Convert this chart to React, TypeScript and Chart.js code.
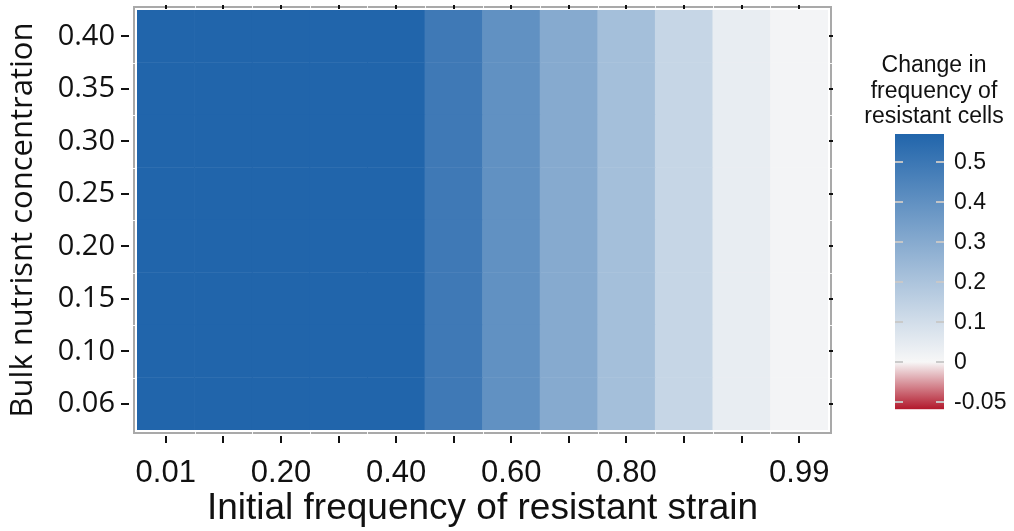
import React, { useEffect, useRef } from 'react';
import { Chart, registerables } from 'chart.js';

Chart.register(...registerables);

// ---- data -------------------------------------------------------------
const xCategories = ['0.01', '0.10', '0.20', '0.30', '0.40', '0.50', '0.60', '0.70', '0.80', '0.90', '0.95', '0.99'];
const xTickLabels = ['0.01', '', '0.20', '', '0.40', '', '0.60', '', '0.80', '', '', '0.99'];
// bottom to top
const yCategories = ['0.06', '0.10', '0.15', '0.20', '0.25', '0.30', '0.35', '0.40'];

const change006 = [0.57, 0.57, 0.57, 0.57, 0.57, 0.49, 0.4, 0.3, 0.22, 0.13, 0.04, 0.01];
const change010 = [0.57, 0.57, 0.57, 0.57, 0.57, 0.49, 0.4, 0.3, 0.22, 0.13, 0.04, 0.01];
const change015 = [0.57, 0.57, 0.57, 0.57, 0.57, 0.49, 0.4, 0.3, 0.22, 0.13, 0.04, 0.01];
const change020 = [0.57, 0.57, 0.57, 0.57, 0.57, 0.49, 0.4, 0.3, 0.22, 0.13, 0.04, 0.01];
const change025 = [0.57, 0.57, 0.57, 0.57, 0.57, 0.49, 0.4, 0.3, 0.22, 0.13, 0.04, 0.01];
const change030 = [0.57, 0.57, 0.57, 0.57, 0.57, 0.49, 0.4, 0.3, 0.22, 0.13, 0.04, 0.01];
const change035 = [0.57, 0.57, 0.57, 0.57, 0.57, 0.49, 0.4, 0.3, 0.22, 0.13, 0.04, 0.01];
const change040 = [0.57, 0.57, 0.57, 0.57, 0.57, 0.49, 0.4, 0.3, 0.22, 0.13, 0.04, 0.01];
const changeRows = [change006, change010, change015, change020, change025, change030, change035, change040];

const legendTitle = ['Change in', 'frequency of', 'resistant cells'];
const cbTicks = [0.5, 0.4, 0.3, 0.2, 0.1, 0, -0.05];
const cbLabels = ['0.5', '0.4', '0.3', '0.2', '0.1', '0', '-0.05'];
const cbMax = 0.57;
const cbMin = -0.059;

// ---- colour scale -----------------------------------------------------
const WHITE = [247, 247, 247];
const BLUE = [33, 101, 171];
const RED = [178, 24, 43];

function lerp(a: number[], b: number[], t: number) {
  const c = a.map((v, i) => Math.round(v + (b[i] - v) * Math.max(0, Math.min(1, t))));
  return `rgb(${c[0]},${c[1]},${c[2]})`;
}
function colorFor(v: number) {
  return v >= 0 ? lerp(WHITE, BLUE, v / cbMax) : lerp(WHITE, RED, v / cbMin);
}

const SANS = '"Liberation Sans", Arial, Helvetica, sans-serif';
const OPEN = '"Open Sans", "Noto Sans", sans-serif';

const decorPlugin = {
  id: 'decor',
  afterDatasetsDraw(chart: any) {
    const { ctx, chartArea: a, scales } = chart;
    const xs = scales.x;
    const ys = scales.y;
    ctx.save();
    // panel frame
    ctx.strokeStyle = '#a9a9a9';
    ctx.lineWidth = 2;
    ctx.strokeRect(a.left - 3, a.top - 3, a.right - a.left + 6, a.bottom - a.top + 6);

    // white marks on the frame at tile boundaries
    ctx.strokeStyle = 'rgba(255,255,255,0.9)';
    ctx.lineWidth = 1;
    for (let j = 0; j < xCategories.length - 1; j++) {
      const bx = Math.round((xs.getPixelForValue(j) + xs.getPixelForValue(j + 1)) / 2) + 0.5;
      ctx.beginPath();
      ctx.moveTo(bx, a.top - 4); ctx.lineTo(bx, a.top - 2);
      ctx.moveTo(bx, a.bottom + 2); ctx.lineTo(bx, a.bottom + 4);
      ctx.stroke();
    }
    for (let i = 1; i < yCategories.length; i++) {
      const by = Math.round(ys.getPixelForValue(i)) + 0.5;
      ctx.beginPath();
      ctx.moveTo(a.left - 4, by); ctx.lineTo(a.left - 2, by);
      ctx.moveTo(a.right + 2, by); ctx.lineTo(a.right + 4, by);
      ctx.stroke();
    }

    // axis ticks and mirror ticks
    ctx.strokeStyle = '#111';
    ctx.lineWidth = 2;
    xCategories.forEach((_, j) => {
      const px = Math.round(xs.getPixelForValue(j));
      ctx.beginPath();
      ctx.moveTo(px, a.bottom + 6); ctx.lineTo(px, a.bottom + 13);
      ctx.moveTo(px, a.top - 5); ctx.lineTo(px, a.top - 1);
      ctx.stroke();
    });
    yCategories.forEach((_, i) => {
      const py = Math.round(ys.getPixelForValue(i + 0.5));
      ctx.beginPath();
      ctx.moveTo(a.left - 16, py); ctx.lineTo(a.left - 8, py);
      ctx.moveTo(a.right + 1, py); ctx.lineTo(a.right + 5, py);
      ctx.stroke();
    });
    ctx.restore();
  },
  afterDraw(chart: any) {
    const { ctx, chartArea: a } = chart;
    const barLeft = a.right + 67;
    const barW = 49;
    const zeroY = 362;
    const stepPx = 40;
    const yOf = (v: number) => (v >= 0 ? zeroY - (v / 0.1) * stepPx : zeroY - (v / 0.05) * stepPx);
    const top = yOf(cbMax);
    const bottom = yOf(cbMin);
    ctx.save();
    const g = ctx.createLinearGradient(0, top, 0, bottom);
    g.addColorStop(0, colorFor(cbMax));
    g.addColorStop((zeroY - top) / (bottom - top), colorFor(0));
    g.addColorStop(1, colorFor(cbMin));
    ctx.fillStyle = g;
    ctx.fillRect(barLeft, top, barW, bottom - top);

    ctx.strokeStyle = 'rgba(200,200,200,0.95)';
    ctx.lineWidth = 2;
    ctx.fillStyle = '#111';
    ctx.font = `23px ${SANS}`;
    ctx.textAlign = 'left';
    ctx.textBaseline = 'middle';
    cbTicks.forEach((v, k) => {
      const y = Math.round(yOf(v));
      ctx.beginPath();
      ctx.moveTo(barLeft, y); ctx.lineTo(barLeft + 8, y);
      ctx.moveTo(barLeft + barW - 8, y); ctx.lineTo(barLeft + barW, y);
      ctx.stroke();
      ctx.fillText(cbLabels[k], barLeft + barW + 10, y + 1);
    });

    ctx.textAlign = 'center';
    ctx.textBaseline = 'alphabetic';
    legendTitle.forEach((line, k) => {
      ctx.fillText(line, barLeft + 39, 72 + k * 25.5);
    });
    ctx.restore();
  },
};

export default function App() {
  const ref = useRef<HTMLCanvasElement | null>(null);

  useEffect(() => {
    document.body.style.margin = '0';
    const canvas = ref.current;
    if (!canvas) return;

    const datasets = changeRows.map((row, i) => ({
      label: yCategories[i],
      data: xCategories.map(() => [i, i + 1]),
      backgroundColor: row.map((v) => colorFor(v)),
      borderWidth: 0,
      grouped: false,
      barPercentage: 1,
      categoryPercentage: 1,
    }));

    const chart = new Chart(canvas, {
      type: 'bar',
      data: { labels: xCategories, datasets: datasets as any },
      plugins: [decorPlugin],
      options: {
        animation: false,
        responsive: false,
        devicePixelRatio: 1,
        layout: { padding: { left: 0, top: 10, right: 186, bottom: 0 } },
        plugins: { legend: { display: false }, tooltip: { enabled: false } },
        scales: {
          x: {
            type: 'category',
            offset: true,
            grid: { display: false },
            border: { display: false },
            afterFit: (s: any) => {
              s.height = 101;
              s.paddingLeft = 0;
              s.paddingRight = 0;
            },
            ticks: {
              autoSkip: false,
              maxRotation: 0,
              padding: 17,
              color: '#111',
              font: { family: SANS, size: 31 },
              callback: (_v: any, i: number) => xTickLabels[i],
            },
            title: {
              display: true,
              text: 'Initial frequency of resistant strain',
              color: '#111',
              font: { family: SANS, size: 37 },
              padding: { top: 0, bottom: 0 },
            },
          },
          y: {
            type: 'linear',
            min: 0,
            max: 8,
            grid: { display: false },
            border: { display: false },
            afterFit: (s: any) => {
              s.width = 137;
              s.paddingTop = 0;
              s.paddingBottom = 0;
            },
            afterBuildTicks: (s: any) => {
              s.ticks = yCategories.map((_, i) => ({ value: i + 0.5 }));
            },
            ticks: {
              padding: 14,
              color: '#111',
              font: { family: OPEN, size: 29 },
              callback: (v: any) => yCategories[Math.floor(Number(v))],
            },
            title: {
              display: true,
              text: 'Bulk nutrisnt concentration',
              color: '#111',
              font: { family: OPEN, size: 31 },
              padding: { top: 5, bottom: 0 },
            },
          },
        },
      },
    });
    return () => chart.destroy();
  }, []);

  return (
    <div style={{ width: 1014, height: 531 }}>
      <canvas ref={ref} width={1014} height={531} style={{ display: 'block' }} />
    </div>
  );
}
